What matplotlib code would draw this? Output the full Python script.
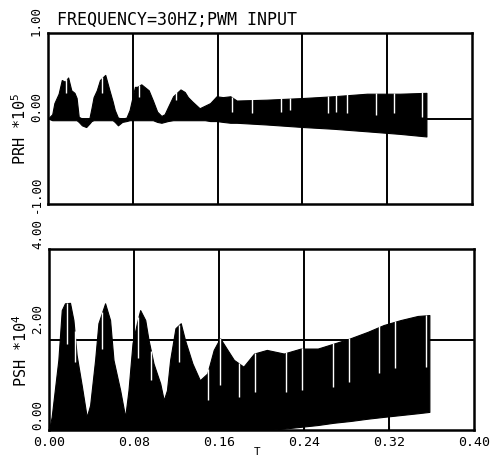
import matplotlib
matplotlib.use("Agg")
import matplotlib.pyplot as plt
import matplotlib.transforms as mtransforms
import numpy as np

# --- Data (envelopes of the PWM response) -------------------------------------

# top panel: PRH * 1e5
prh_t = [0.000, 0.004, 0.006, 0.010, 0.013, 0.016, 0.019, 0.022, 0.025, 0.027,
         0.029, 0.032, 0.036, 0.039, 0.041, 0.043, 0.046, 0.049, 0.054, 0.058,
         0.061, 0.063, 0.066, 0.070, 0.074, 0.077, 0.079, 0.082, 0.084, 0.088,
         0.092, 0.095, 0.099, 0.103, 0.107, 0.110, 0.113, 0.118, 0.125, 0.129,
         0.132, 0.136, 0.143, 0.148, 0.153, 0.159, 0.165, 0.172, 0.178, 0.206,
         0.241, 0.269, 0.301, 0.332, 0.357]
prh_hi = [0.00, 0.05, 0.18, 0.29, 0.45, 0.43, 0.48, 0.33, 0.30, 0.24,
          0.02, 0.00, -0.02, 0.00, 0.12, 0.25, 0.33, 0.45, 0.51, 0.33,
          0.20, 0.10, 0.01, 0.00, 0.01, 0.10, 0.21, 0.37, 0.37, 0.40,
          0.36, 0.33, 0.21, 0.08, 0.03, 0.05, 0.13, 0.26, 0.34, 0.31,
          0.25, 0.20, 0.12, 0.15, 0.18, 0.26, 0.25, 0.26, 0.21, 0.22,
          0.24, 0.26, 0.29, 0.29, 0.30]
prh_lo = [0.00, -0.02, -0.02, -0.02, -0.02, -0.02, -0.02, -0.02, -0.02, -0.02,
          -0.04, -0.08, -0.10, -0.06, -0.03, -0.02, -0.02, -0.02, -0.02, -0.02,
          -0.02, -0.04, -0.08, -0.04, -0.03, -0.02, -0.02, -0.02, -0.02, -0.02,
          -0.02, -0.02, -0.02, -0.04, -0.05, -0.04, -0.03, -0.02, -0.02, -0.02,
          -0.02, -0.02, -0.02, -0.02, -0.03, -0.03, -0.04, -0.05, -0.05, -0.07,
          -0.10, -0.12, -0.15, -0.18, -0.21]
# white gaps in the comb (time, depth reached)
prh_gap_t = [0.017, 0.051, 0.086, 0.121, 0.174, 0.192, 0.220, 0.228, 0.264,
             0.272, 0.282, 0.309, 0.326, 0.353]
prh_gap_v = [0.30, 0.30, 0.25, 0.22, 0.08, 0.06, 0.08, 0.10, 0.06,
             0.08, 0.06, 0.04, 0.06, 0.02]

# bottom panel: PSH * 1e4
psh_t = [0.000, 0.0025, 0.0088, 0.012, 0.015, 0.0198, 0.023, 0.026, 0.031, 0.0355,
         0.0387, 0.0434, 0.0465, 0.0528, 0.0575, 0.0607, 0.067, 0.0717, 0.0748, 0.0786,
         0.0827, 0.0858, 0.0906, 0.0937, 0.0984, 0.1047, 0.108, 0.111, 0.114, 0.119,
         0.124, 0.128, 0.135, 0.142, 0.149, 0.155, 0.161, 0.168, 0.174, 0.183,
         0.193, 0.205, 0.221, 0.237, 0.253, 0.268, 0.284, 0.300, 0.315, 0.331,
         0.347, 0.358]
psh_hi = [0.00, 0.29, 1.55, 2.65, 2.80, 2.81, 2.43, 1.66, 0.96, 0.29,
          0.55, 1.55, 2.36, 2.80, 2.43, 1.55, 0.88, 0.29, 0.88, 1.92,
          2.36, 2.65, 2.43, 1.99, 1.47, 1.03, 0.66, 0.88, 1.55, 2.25,
          2.36, 1.99, 1.47, 1.10, 1.25, 1.77, 2.03, 1.77, 1.55, 1.40,
          1.69, 1.77, 1.69, 1.80, 1.80, 1.91, 2.03, 2.17, 2.32, 2.43,
          2.52, 2.54]
psh_lo = [0.00, 0.00, 0.00, 0.00, 0.00, 0.00, 0.00, 0.00, 0.00, 0.00,
          0.00, 0.00, 0.00, 0.00, 0.00, 0.00, 0.00, 0.00, 0.00, 0.00,
          0.00, 0.00, 0.00, 0.00, 0.00, 0.00, 0.00, 0.00, 0.00, 0.00,
          0.00, 0.00, 0.00, 0.00, 0.00, 0.00, 0.00, 0.00, 0.00, 0.00,
          0.00, 0.00, 0.03, 0.07, 0.11, 0.16, 0.20, 0.25, 0.29, 0.33,
          0.37, 0.40]
psh_gap_t = [0.017, 0.024, 0.050, 0.084, 0.096, 0.122, 0.150, 0.161, 0.179,
             0.194, 0.223, 0.238, 0.267, 0.282, 0.311, 0.326, 0.355]
psh_gap_v = [1.90, 1.50, 1.80, 1.60, 1.10, 1.50, 0.66, 0.99, 0.74,
             0.85, 0.85, 0.88, 0.96, 1.07, 1.25, 1.36, 1.40]

x_ticks = [0.00, 0.08, 0.16, 0.24, 0.32, 0.40]
x_labels = ["0.00", "0.08", "0.16", "0.24", "0.32", "0.40"]
prh_ticks = [-1, 0, 1]
prh_labels = ["-1.00", "0.00", "1.00"]
psh_ticks = [0, 2, 4]
psh_labels = ["0.00", "2.00", "4.00"]

plt.rcParams["font.family"] = ["DejaVu Sans Mono", "DejaVu Sans"]

fig = plt.figure(figsize=(5.03, 4.59), dpi=100)
ax1 = fig.add_axes([48 / 503, 1 - 204 / 459, 424 / 503, 171 / 459])
ax2 = fig.add_axes([49 / 503, 1 - 430 / 459, 425 / 503, 181 / 459])


def style_axes(ax, ylim, ygrid, yticks, ylabels, shifts, ylabel):
    ax.set_xlim(0, 0.40)
    ax.set_ylim(*ylim)
    for s in ax.spines.values():
        s.set_linewidth(1.8)
    for xv in x_ticks[1:-1]:
        ax.axvline(xv, color="black", lw=1.4, zorder=1)
    ax.axhline(ygrid, color="black", lw=1.4, zorder=1)
    ax.set_yticks(yticks)
    ax.set_yticklabels([])
    ax.tick_params(axis="y", length=0)
    # rotated tick labels placed by hand, like the plotter did
    base = mtransforms.blended_transform_factory(ax.transAxes, ax.transData)
    for yv, lab, dy in zip(yticks, ylabels, shifts):
        tr = base + mtransforms.ScaledTranslation(0, -dy / 100, fig.dpi_scale_trans)
        ax.text(-0.012, yv, lab, transform=tr, rotation=90, fontsize=9,
                ha="right", va="bottom")
    ax.set_ylabel(ylabel, fontsize=11)
    ax.yaxis.set_label_coords(-0.045, 0.44)


def draw_band(ax, t, lo, hi, gap_t, gap_v):
    ax.fill_between(t, lo, hi, color="black", lw=0.8, zorder=2)
    tops = np.interp(gap_t, t, hi)
    ax.vlines(gap_t, gap_v, tops + 0.01, color="white", lw=1.0, zorder=3)


style_axes(ax1, (-1, 1), 0.0, prh_ticks, prh_labels, [9, 4, 3], r"PRH *10$^5$")
ax1.set_xticks(x_ticks)
ax1.tick_params(axis="x", length=0, labelbottom=False)
draw_band(ax1, prh_t, prh_lo, prh_hi, prh_gap_t, prh_gap_v)

style_axes(ax2, (0, 4), 2.0, psh_ticks, psh_labels, [0, -5, 0], r"PSH *10$^4$")
ax2.set_xticks(x_ticks)
ax2.set_xticklabels(x_labels, fontsize=9.5)
ax2.tick_params(axis="x", length=3, direction="in", pad=4)
draw_band(ax2, psh_t, psh_lo, psh_hi, psh_gap_t, psh_gap_v)
ax2.set_xlabel("T", fontsize=8)
ax2.xaxis.set_label_coords(0.49, -0.095)

fig.text(57 / 503, 1 - 20 / 459, "FREQUENCY=30HZ;PWM INPUT", fontsize=12,
         va="center", ha="left")

fig.savefig("out.png", dpi=100)
